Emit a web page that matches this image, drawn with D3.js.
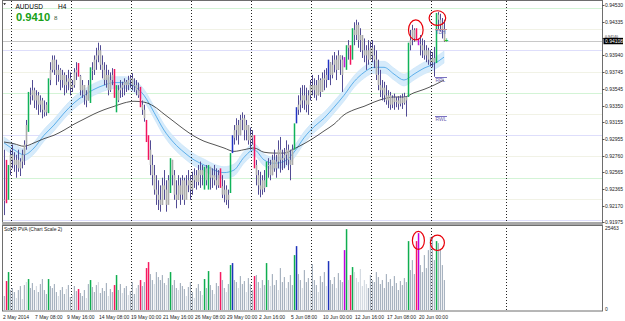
<!DOCTYPE html>
<html lang="en">
<head>
<meta charset="UTF-8">
<title>AUDUSD H4</title>
<script src="https://cdnjs.cloudflare.com/ajax/libs/d3/7.8.5/d3.min.js"></script>
<style>
    * { margin: 0; padding: 0; }
    body { background: #fff; width: 625px; height: 321px; overflow: hidden; }
    svg text { font-family: "Liberation Sans", Arial, sans-serif; }
</style>
</head>
<body>
<div id="chart"></div>
<script>
// ---- data (H4 bars, one per 2px) ----
const highs = [
 .9283,.9271,.9265,.9283,.9289,.9280,.9277,.9283,.9273,.9283,
 .9294,.9318,.9351,.9356,.9365,.9356,.9353,.9351,.9347,.9344,
 .9341,.9339,.9367,.9386,.9394,.9394,.9389,.9383,.9379,.9377,
 .9374,.9371,.9377,.9374,.9365,.9379,.9386,.9385,.9371,.9365,
 .9359,.9353,.9365,.9380,.9386,.9394,.9403,.9409,.9406,.9394,
 .9386,.9383,.9377,.9374,.9379,.9378,.9359,.9359,.9365,.9363,
 .9367,.9365,.9370,.9371,.9373,.9367,.9365,.9362,.9357,.9341,
 .9336,.9318,.9300,.9294,.9277,.9265,.9253,.9247,.9241,.9250,
 .9259,.9247,.9253,.9273,.9271,.9259,.9247,.9253,.9250,.9253,
 .9250,.9253,.9259,.9253,.9257,.9261,.9259,.9265,.9269,.9265,
 .9263,.9265,.9265,.9257,.9261,.9265,.9261,.9259,.9261,.9253,
 .9247,.9241,.9236,.9279,.9300,.9312,.9320,.9318,.9324,.9327,
 .9324,.9318,.9312,.9309,.9306,.9300,.9271,.9259,.9257,.9253,
 .9259,.9269,.9273,.9271,.9277,.9283,.9277,.9294,.9298,.9283,
 .9285,.9294,.9289,.9283,.9289,.9314,.9333,.9347,.9356,.9359,
 .9359,.9356,.9353,.9365,.9371,.9367,.9365,.9371,.9367,.9374,
 .9377,.9379,.9389,.9386,.9394,.9398,.9394,.9400,.9394,.9394,
 .9392,.9406,.9412,.9406,.9426,.9433,.9436,.9433,.9426,.9418,
 .9414,.9406,.9412,.9410,.9412,.9406,.9400,.9389,.9377,.9365,
 .9363,.9359,.9353,.9351,.9347,.9349,.9345,.9346,.9347,.9349,
 .9350,.9346,.9409,.9424,.9430,.9426,.9426,.9414,.9418,.9414,
 .9412,.9406,.9403,.9400,.9398,.9404,.9444,.9445,.9443,.9438,
 .9436
];
const lows = [
 .9206,.9220,.9224,.9253,.9261,.9257,.9250,.9257,.9252,.9261,
 .9265,.9283,.9304,.9336,.9341,.9332,.9330,.9324,.9327,.9320,
 .9322,.9323,.9326,.9359,.9374,.9371,.9359,.9363,.9353,.9356,
 .9347,.9350,.9353,.9347,.9351,.9356,.9365,.9369,.9347,.9344,
 .9336,.9333,.9341,.9338,.9365,.9371,.9377,.9386,.9377,.9367,
 .9359,.9356,.9347,.9351,.9359,.9344,.9327,.9339,.9344,.9345,
 .9347,.9351,.9353,.9356,.9353,.9351,.9347,.9344,.9333,.9324,
 .9316,.9292,.9271,.9253,.9241,.9230,.9218,.9212,.9210,.9218,
 .9224,.9210,.9224,.9232,.9241,.9224,.9214,.9224,.9218,.9224,
 .9218,.9226,.9233,.9224,.9230,.9238,.9236,.9241,.9238,.9241,
 .9236,.9241,.9236,.9236,.9238,.9241,.9236,.9238,.9238,.9226,
 .9221,.9218,.9214,.9232,.9279,.9289,.9294,.9289,.9300,.9306,
 .9294,.9294,.9289,.9283,.9289,.9261,.9241,.9230,.9227,.9230,
 .9233,.9239,.9250,.9247,.9253,.9257,.9250,.9261,.9256,.9259,
 .9261,.9265,.9259,.9247,.9265,.9283,.9314,.9324,.9327,.9332,
 .9330,.9327,.9324,.9341,.9347,.9344,.9341,.9347,.9345,.9351,
 .9353,.9356,.9365,.9359,.9367,.9374,.9365,.9377,.9371,.9351,
 .9380,.9377,.9389,.9383,.9389,.9406,.9412,.9403,.9398,.9391,
 .9386,.9377,.9383,.9389,.9386,.9379,.9365,.9353,.9345,.9341,
 .9339,.9336,.9332,.9330,.9332,.9330,.9333,.9330,.9334,.9331,
 .9336,.9322,.9345,.9400,.9406,.9410,.9412,.9406,.9394,.9391,
 .9389,.9386,.9383,.9381,.9380,.9369,.9385,.9424,.9422,.9414,
 .9410
];
const closes = [
 .9224,.9224,.9259,.9277,.9271,.9265,.9271,.9261,.9269,.9277,
 .9289,.9312,.9347,.9347,.9353,.9341,.9347,.9336,.9341,.9330,
 .9327,.9336,.9365,.9377,.9389,.9377,.9371,.9377,.9365,.9371,
 .9359,.9363,.9367,.9356,.9359,.9374,.9377,.9370,.9353,.9359,
 .9347,.9341,.9359,.9377,.9377,.9389,.9394,.9400,.9383,.9377,
 .9365,.9371,.9353,.9365,.9371,.9347,.9341,.9353,.9356,.9359,
 .9363,.9359,.9365,.9367,.9359,.9359,.9353,.9347,.9336,.9330,
 .9320,.9294,.9283,.9265,.9253,.9236,.9230,.9224,.9218,.9241,
 .9236,.9218,.9247,.9271,.9253,.9230,.9224,.9241,.9230,.9247,
 .9224,.9241,.9247,.9236,.9247,.9253,.9245,.9259,.9253,.9259,
 .9261,.9247,.9263,.9250,.9253,.9247,.9241,.9253,.9240,.9230,
 .9236,.9224,.9230,.9277,.9297,.9306,.9312,.9300,.9318,.9320,
 .9306,.9312,.9294,.9300,.9297,.9265,.9253,.9241,.9236,.9247,
 .9238,.9265,.9265,.9253,.9271,.9261,.9269,.9283,.9271,.9273,
 .9277,.9283,.9271,.9265,.9283,.9312,.9330,.9336,.9341,.9347,
 .9341,.9336,.9347,.9359,.9353,.9359,.9347,.9365,.9351,.9367,
 .9365,.9371,.9386,.9371,.9383,.9389,.9377,.9394,.9389,.9371,
 .9391,.9403,.9406,.9386,.9424,.9418,.9430,.9412,.9418,.9400,
 .9394,.9400,.9389,.9403,.9394,.9389,.9371,.9359,.9353,.9356,
 .9347,.9341,.9347,.9336,.9344,.9339,.9341,.9337,.9344,.9338,
 .9345,.9341,.9406,.9412,.9424,.9414,.9413,.9407,.9406,.9400,
 .9394,.9400,.9389,.9386,.9391,.9386,.9442,.9436,.9430,.9424,
 .94108
];
// n normal, l normal (light volume), g green, r red, b blue, m magenta
const barTypes = (
 "nrgnnnlnnl" + "nlgnnnlnnn" + "nngnnnnlnn" + "nlnnlnnrnn" + "nlngnnnlnn" +
 "nnlnnrgnnl" + "nnlnnnlnrn" + "nrrnnlnnnn" + "nlngnnnlnn" + "nlnnnlnnnl" +
 "gngnnlnnrn" + "nlngbnnlnn" + "nlnnnrnnln" + "ngnlnnnlnn" + "nlnnngbnnl" +
 "nnnlnnnlnn" + "nlbnnnlnnn" + "mglrglllll" + "llnnnnnnnn" + "nnnnnnnnnn" +
 "nngnnnrmnn" + "nnnnnngnnn" + "n").split("");
const volumes = [
 4340,8990,11780,6200,6820,5580,3720,6200,7440,3410,
 7750,8680,9610,6820,8370,6200,7440,5580,8060,9610,
 6200,4960,9610,7440,6820,8060,5580,4340,6200,7130,
 4960,6510,7750,4030,4650,7440,5890,6510,5270,4340,
 6200,3720,8060,9300,7130,5580,7750,8680,5270,6820,
 5890,8370,4340,6510,5580,7750,10850,6200,8060,5270,
 6820,7440,4650,5890,8680,4960,6820,7750,9300,7440,
 8680,13020,14880,11160,9300,8060,11780,10230,9300,10850,
 8370,7750,9920,11780,7750,9300,6820,6200,8370,7440,
 6510,4340,7130,8680,5580,3720,6820,8060,5890,4650,
 9610,6820,12090,7750,6200,4960,8370,7440,11780,9300,
 6820,5580,8060,13950,14570,9300,8680,6820,10540,8060,
 8990,5580,9920,8060,6200,10540,10850,8680,6820,9300,
 7750,14570,9300,7440,11160,7750,9300,6200,13020,8680,
 10230,6820,8680,10850,7750,17050,19840,11160,9300,6820,
 12400,8680,9920,6200,14260,9300,7750,5580,10540,8680,
 11780,7440,15190,9300,8060,10230,6820,11470,9300,8680,
 18600,25110,9300,10850,13330,11780,9920,8680,12710,7440,
 9300,8060,6820,10850,9300,8680,11780,10230,8060,9300,
 6820,11160,8680,9610,7440,10540,8370,6200,8990,7750,
 9920,8680,21390,12400,15500,11160,21390,23870,13950,11780,
 17050,13020,18600,22630,22940,15500,21390,20770,18600,13950,
 9300
];
// moving averages, one reading every 5 bars
const maStep = 5;
const maFast = [
 .9291,.9283,.9277,.9285,.9300,.9312,.9326,.9338,.9347,.9354,
 .9359,.9362,.9362,.9358,.9347,.9327,.9306,.9291,.9280,.9271,
 .9265,.9259,.9256,.9259,.9274,.9283,.9271,.9267,.9269,.9280,
 .9297,.9310,.9320,.9333,.9347,.9363,.9374,.9380,.9380,.9372,
 .9365,.9372,.9379,.9384,.9392
];
const maSlow = [
 .9292,.9290,.9287,.9291,.9296,.9300,.9306,.9313,.9319,.9325,
 .9330,.9334,.9338,.9340,.9339,.9334,.9325,.9316,.9307,.9299,
 .9293,.9289,.9285,.9281,.9283,.9285,.9280,.9279,.9279,.9284,
 .9290,.9297,.9305,.9313,.9324,.9330,.9334,.9339,.9343,.9345,
 .9345,.9350,.9354,.9359,.9365
];
const bandHalf = 0.0007;
const levels = [0.9450, 0.9425, 0.9400, 0.9375, 0.9350, 0.9325, 0.9300, 0.9275, 0.9250, 0.9225, 0.9200];
const priceTicks = [0.94530, 0.94335, 0.94140, 0.93940, 0.93745, 0.93545, 0.93350, 0.93155,
                    0.92955, 0.92760, 0.92565, 0.92365, 0.92170, 0.91975];
const timeLabels = ["2 May 2014", "7 May 08:00", "9 May 16:00", "14 May 08:00", "19 May 00:00",
                    "21 May 16:00", "26 May 08:00", "29 May 00:00", "2 Jun 16:00", "5 Jun 08:00",
                    "10 Jun 00:00", "12 Jun 16:00", "17 Jun 08:00", "20 Jun 00:00"];
const labelEvery = 16;
const weekBars = [4, 34, 64, 94, 124, 154, 184, 214, 251.5];
const lastPrice = 0.94108;
const volMax = 25463;
const marks = [
    { name: "TDH", price: 0.9425 },
    { name: "RPL", price: 0.9369 },
    { name: "RWL", price: 0.9323 }
];
const priceCircles = [{ bar: 205.9, price: 0.9424 }, { bar: 216.7, price: 0.9438 }];
const volCircles = [{ bar: 207.2, vol: 21600 }, { bar: 216.7, vol: 20860 }];

// ---- layout ----
const W = 625, H = 321;
const left = 3, right = 602;
const mainTop = 1, mainBottom = 222;
const volTop = 225, volBottom = 311;

const priceColor = { g: "#10b35a", r: "#f2155f", b: "#2233c4", m: "#c21bd6" };
const volColor = { n: "#a8b3c0", l: "#d5dbe2", g: "#0fae4f", r: "#f61a60", b: "#1e33bb", m: "#c000e0" };

const svg = d3.select("#chart").append("svg")
    .attr("width", W).attr("height", H)
    .style("display", "block");

svg.append("rect").attr("width", W).attr("height", H).attr("fill", "#fff");

const x = d3.scaleLinear().domain([0, 220]).range([4, 444]);
const y = d3.scaleLinear().domain([0.91975, 0.94530]).range([222.3, 5.3]);
const yv = d3.scaleLinear().domain([0, volMax]).range([310, 228]);

const defs = svg.append("defs");
defs.append("clipPath").attr("id", "clipMain")
    .append("rect").attr("x", left).attr("y", mainTop).attr("width", right - left).attr("height", mainBottom - mainTop);

const main = svg.append("g").attr("clip-path", "url(#clipMain)");

// round-number levels
main.selectAll("line.level").data(levels).enter().append("line")
    .attr("x1", left).attr("x2", right)
    .attr("y1", d => Math.round(y(d)) + 0.5).attr("y2", d => Math.round(y(d)) + 0.5)
    .attr("stroke", d => {
        const pips = Math.round(d * 10000) % 100;
        if (pips === 0) return "#dedefb";
        if (pips === 50) return "#d3f4d6";
        return "#f1f2e6";
    })
    .attr("stroke-width", 1);

// weekly separators
[[mainTop, mainBottom], [volTop, volBottom]].forEach(([t, b]) => {
    svg.append("g").selectAll("line").data(weekBars).enter().append("line")
        .attr("x1", d => Math.round(x(d)) - 0.5).attr("x2", d => Math.round(x(d)) - 0.5)
        .attr("y1", t).attr("y2", b)
        .attr("stroke", "#222").attr("stroke-width", 1)
        .attr("stroke-dasharray", "1,2");
});

// current price line
main.append("line")
    .attr("x1", left).attr("x2", right)
    .attr("y1", Math.round(y(lastPrice)) + 0.5).attr("y2", Math.round(y(lastPrice)) + 0.5)
    .attr("stroke", "#c8c8c8");

// MA band + lines
const maPts = maFast.map((v, k) => ({ i: k * maStep, v }));
main.append("path").datum(maPts)
    .attr("d", d3.area().x(d => x(d.i)).y0(d => y(d.v - bandHalf)).y1(d => y(d.v + bandHalf))
        .curve(d3.curveMonotoneX))
    .attr("fill", "#d6ebfb").attr("stroke", "#c6e2f8").attr("stroke-width", 0.6);

main.append("path").datum(maPts)
    .attr("d", d3.line().x(d => x(d.i)).y(d => y(d.v)).curve(d3.curveMonotoneX))
    .attr("fill", "none").attr("stroke", "#3d9fe6").attr("stroke-width", 0.8);

main.append("path").datum(maSlow.map((v, k) => ({ i: k * maStep, v })))
    .attr("d", d3.line().x(d => x(d.i)).y(d => y(d.v)).curve(d3.curveMonotoneX))
    .attr("fill", "none").attr("stroke", "#2a2a2a").attr("stroke-width", 0.8);

// price bars: dark wick, grey open-close part, colored when flagged
const bars = highs.map((h, i) => ({
    i, h, l: lows[i], c: closes[i], o: i > 0 ? closes[i - 1] : closes[0], t: barTypes[i]
}));
const barG = main.append("g");
bars.forEach(d => {
    const bx = Math.round(x(d.i));
    const col = priceColor[d.t];
    if (col) {
        barG.append("rect").attr("x", bx - 0.25).attr("width", 1.5)
            .attr("y", y(d.h)).attr("height", Math.max(1, y(d.l) - y(d.h)))
            .attr("fill", col);
    } else {
        barG.append("rect").attr("x", bx).attr("width", 1)
            .attr("y", y(d.h)).attr("height", Math.max(1, y(d.l) - y(d.h)))
            .attr("fill", "#524c94");
        const top = y(Math.max(d.o, d.c)), bot = y(Math.min(d.o, d.c));
        barG.append("rect").attr("x", bx - 0.3).attr("width", 1.6)
            .attr("y", top).attr("height", Math.max(1, bot - top))
            .attr("fill", "#ababab");
    }
});

// level marks at right of last bar
marks.forEach(m => {
    const yy = Math.round(y(m.price)) + 0.5;
    main.append("line").attr("x1", x(215.5)).attr("x2", x(221.5))
        .attr("y1", yy).attr("y2", yy)
        .attr("stroke", m.name === "TDH" ? "#c89090" : "#7b72c0").attr("stroke-width", 1);
    main.append("text").attr("x", x(215.7)).attr("y", yy + 4.6)
        .attr("font-size", 5).attr("fill", "#6a62b0").text(m.name);
});

// green cross at last price
main.append("text").attr("x", 444.5).attr("y", y(lastPrice) + 2.2)
    .attr("font-size", 6.5).attr("font-weight", "bold").attr("fill", "#22c030").text("+");

// red circles
main.selectAll("ellipse.pc").data(priceCircles).enter().append("ellipse")
    .attr("cx", d => x(d.bar)).attr("cy", d => y(d.price))
    .attr("rx", (d, k) => k === 0 ? 7.3 : 8.3).attr("ry", (d, k) => k === 0 ? 10 : 7.3)
    .attr("fill", "none").attr("stroke", "#e8000a").attr("stroke-width", 1.2);

// volume bars
const volG = svg.append("g");
volumes.forEach((v, i) => {
    volG.append("rect")
        .attr("x", Math.round(x(i)) - 0.2).attr("width", barTypes[i] === "n" || barTypes[i] === "l" ? 1.2 : 1.5)
        .attr("y", yv(v)).attr("height", yv(0) - yv(v))
        .attr("fill", volColor[barTypes[i]]);
});
volG.selectAll("ellipse").data(volCircles).enter().append("ellipse")
    .attr("cx", d => x(d.bar)).attr("cy", d => yv(d.vol))
    .attr("rx", (d, k) => k === 0 ? 6 : 7).attr("ry", (d, k) => k === 0 ? 9 : 7.7)
    .attr("fill", "none").attr("stroke", "#e8000a").attr("stroke-width", 1.2);

// frames
svg.append("rect").attr("x", left - 0.5).attr("y", 0.5).attr("width", right - left + 1).attr("height", mainBottom)
    .attr("fill", "none").attr("stroke", "#6e6e6e");
svg.append("rect").attr("x", left - 1).attr("y", mainBottom).attr("width", right - left + 2).attr("height", volTop - mainBottom)
    .attr("fill", "#a8a8a8");
svg.append("rect").attr("x", left - 0.5).attr("y", volTop + 0.5).attr("width", right - left + 1).attr("height", volBottom - volTop - 0.5)
    .attr("fill", "none").attr("stroke", "#6e6e6e");

// price axis (the tick hidden by the last-price box peeks out above it)
const axisG = svg.append("g");
const ly = y(lastPrice);
priceTicks.forEach(t => {
    const yy = Math.round(y(t)) + 0.5;
    const covered = Math.abs(y(t) - ly) < 6;
    axisG.append("line").attr("x1", right).attr("x2", right + 2.5).attr("y1", yy).attr("y2", yy).attr("stroke", "#555");
    axisG.append("text").attr("x", right + 3).attr("y", covered ? ly - 3.6 : yy + 1.8)
        .attr("font-size", covered ? 3.6 : 5).attr("fill", "#222").text(d3.format(".5f")(t));
});
axisG.append("rect").attr("x", right + 1.5).attr("y", ly - 3.3).attr("width", 19.5).attr("height", 6.4).attr("fill", "#000");
axisG.append("text").attr("x", right + 3).attr("y", ly + 1.8)
    .attr("font-size", 5).attr("fill", "#fff").text(d3.format(".5f")(lastPrice));

// volume axis
axisG.append("text").attr("x", right + 3).attr("y", yv(volMax) + 1.6).attr("font-size", 5).attr("fill", "#222").text(volMax);
axisG.append("text").attr("x", right + 3).attr("y", yv(0) + 1.2).attr("font-size", 5).attr("fill", "#222").text("0");

// time axis
timeLabels.forEach((lab, k) => {
    const bx = x(k * labelEvery);
    svg.append("text").attr("x", bx - 1).attr("y", 318.6)
        .attr("font-size", 5).attr("fill", "#222").text(lab);
});

// titles
svg.append("path").attr("d", "M3.2,3.2 L6,3.2 L4.6,5 Z").attr("fill", "#000");
svg.append("text").attr("x", 15.5).attr("y", 8.6).attr("font-size", 6.5).attr("fill", "#000").text("AUDUSD");
svg.append("text").attr("x", 58).attr("y", 8.6).attr("font-size", 6.5).attr("fill", "#000").text("H4");
svg.append("text").attr("x", 16).attr("y", 20.8).attr("font-size", 11.2).attr("font-weight", "bold")
    .attr("fill", "#18a018").text("0.9410");
svg.append("text").attr("x", 54).attr("y", 20.2).attr("font-size", 6.2).attr("fill", "#3a5a3a").text("8");
svg.append("text").attr("x", 4).attr("y", 230.6).attr("font-size", 5).attr("fill", "#222")
    .text("SoftR PVA  (Chart Scale 2)");
</script>
</body>
</html>
